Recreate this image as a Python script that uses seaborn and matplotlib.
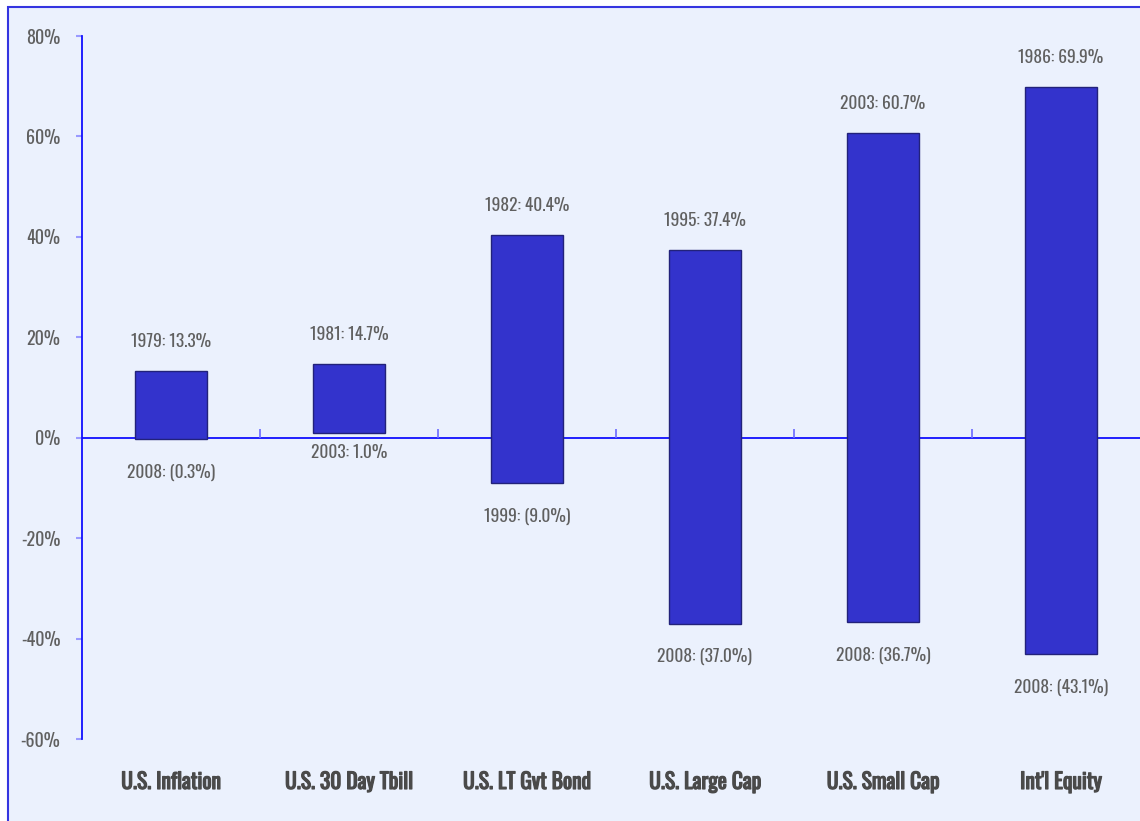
import matplotlib
matplotlib.use("Agg")
import matplotlib.pyplot as plt
import matplotlib.patheffects as pe
import seaborn as sns
import numpy as np
import pandas as pd
from matplotlib.patches import Rectangle
from matplotlib.ticker import FuncFormatter

categories = ["U.S. Inflation", "U.S. 30 Day Tbill", "U.S. LT Gvt Bond",
              "U.S. Large Cap", "U.S. Small Cap", "Int'l Equity"]
max_values = [13.3, 14.7, 40.4, 37.4, 60.7, 69.9]
max_years = [1979, 1981, 1982, 1995, 2003, 1986]
min_values = [-0.3, 1.0, -9.0, -37.0, -36.7, -43.1]
min_years = [2008, 2003, 1999, 2008, 2008, 2008]
y_ticks = [-60, -40, -20, 0, 20, 40, 60, 80]

sns.set_theme(style="white")
plt.rcParams["font.family"] = ["Oswald", "DejaVu Sans"]

bg = "#EBF1FD"
fig = plt.figure(figsize=(11.4, 8.21), dpi=100, facecolor="white")
W, H = 1140, 821
fig.patches.append(Rectangle((8 / W, -0.1), 1.2, (H - 7) / H + 0.1, transform=fig.transFigure,
                             facecolor=bg, edgecolor="#3535E0", linewidth=1.5, zorder=-10))
ax = fig.add_axes([82 / W, (H - 739) / H, (W - 82) / W, (739 - 36) / H])
ax.set_facecolor("none")

df = pd.DataFrame({"cat": categories,
                   "span": np.array(max_values) - np.array(min_values),
                   "low": min_values})
sns.barplot(data=df, x="cat", y="span", bottom=df["low"].values, ax=ax,
            color="#3333CC", saturation=1, width=0.4,
            edgecolor="#22227A", linewidth=1.0, zorder=3)

ax.set_xlim(-0.5, 5.444)
ax.set_ylim(-60, 80)
ax.set_yticks(y_ticks)
ax.yaxis.set_major_formatter(FuncFormatter(lambda v, p: f"{v:.0f}%"))
ax.set_xlabel("")
ax.set_ylabel("")
for s in ["top", "right", "bottom"]:
    ax.spines[s].set_visible(False)
ax.spines["left"].set_color("#1010FF")
ax.spines["left"].set_linewidth(1.3)
ax.tick_params(axis="y", left=True, length=4.5, width=1.5, color="#9A9AFF",
               labelsize=13, labelcolor="#606060", pad=11)
ax.tick_params(axis="x", bottom=False, length=0, pad=23, labelsize=15.5, labelcolor="#4A4A4A")
for lab in ax.get_yticklabels():
    lab.set_fontweight("light")
for lab in ax.get_xticklabels():
    lab.set_fontweight("bold")
    lab.set_path_effects([pe.withStroke(linewidth=0.9, foreground="#4A4A4A")])

ax.axhline(0, color="#1010FF", linewidth=1.3, zorder=2)
ax.vlines(np.arange(0.5, len(categories) - 0.5, 1.0), 0, 1.7, color="#6A6AFF",
          linewidth=1.2, zorder=2)

min_offsets = [-33, -20, -33, -33, -33, -33]
for i in range(len(categories)):
    ax.annotate(f"{max_years[i]}: {max_values[i]:.1f}%", (i, max_values[i]),
                xytext=(0, 21), textcoords="offset points", ha="center", va="center",
                fontsize=12.5, color="#606060", fontweight="light")
    v = min_values[i]
    txt = f"({abs(v):.1f}%)" if v < 0 else f"{v:.1f}%"
    ax.annotate(f"{min_years[i]}: {txt}", (i, v),
                xytext=(0, min_offsets[i] * 0.72), textcoords="offset points",
                ha="center", va="center", fontsize=12.5, color="#606060", fontweight="light")

fig.savefig("out.png", dpi=100, facecolor="white")
